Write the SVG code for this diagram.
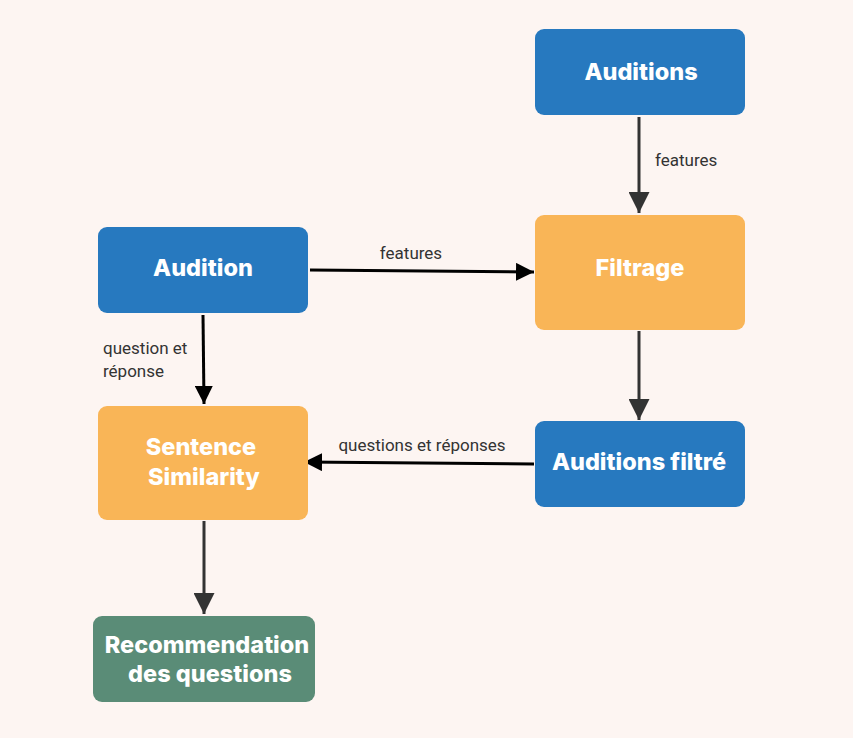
<svg xmlns="http://www.w3.org/2000/svg" width="853" height="738" viewBox="0 0 853 738">
  <defs>
    <style>
      .node-label { font-family: Inter, Roboto, "Liberation Sans", sans-serif; font-weight: 800; font-size: 23.5px; fill: #ffffff; text-anchor: middle; }
      .edge-label { font-family: Roboto, "Liberation Sans", sans-serif; font-size: 17px; fill: #333333; }
      .blue { fill: #2779bf; }
      .orange { fill: #f9b557; }
      .green { fill: #5a8c77; }
      .edge-dark { stroke: #333333; stroke-width: 3; fill: none; }
      .edge-black { stroke: #000000; stroke-width: 3; fill: none; }
    </style>
    <marker id="head-dark" viewBox="0 0 10 10" refX="10" refY="5" markerWidth="7" markerHeight="7" markerUnits="strokeWidth" orient="auto">
      <path d="M0,0 L10,5 L0,10 Z" fill="#333333"/>
    </marker>
    <marker id="head-black" viewBox="0 0 10 10" refX="10" refY="5" markerWidth="6" markerHeight="6" markerUnits="strokeWidth" orient="auto">
      <path d="M0,0 L10,5 L0,10 Z" fill="#000000"/>
    </marker>
  </defs>

  <rect width="853" height="738" fill="#fdf5f2"/>

  <g id="connectors">
    <path class="edge-dark" d="M639,117 L639,213" marker-end="url(#head-dark)"/>
    <text class="edge-label" x="655" y="166">features</text>

    <path class="edge-black" d="M310,270 L534,272" marker-end="url(#head-black)"/>
    <text class="edge-label" x="411" y="259" text-anchor="middle">features</text>

    <path class="edge-black" d="M203,315 L204,404" marker-end="url(#head-black)"/>
    <text class="edge-label" x="103" y="354">question et</text>
    <text class="edge-label" x="103" y="377">réponse</text>

    <path class="edge-dark" d="M639,331 L639,420" marker-end="url(#head-dark)"/>

    <path class="edge-black" d="M534,464 L304,462" marker-end="url(#head-black)"/>
    <text class="edge-label" x="422" y="451" text-anchor="middle">questions et réponses</text>

    <path class="edge-dark" d="M204,521 L204,614" marker-end="url(#head-dark)"/>
  </g>

  <g id="auditions">
    <rect class="blue" x="535" y="29" width="210" height="86" rx="9"/>
    <text class="node-label" x="641" y="80">Auditions</text>
  </g>

  <g id="filtrage">
    <rect class="orange" x="535" y="215" width="210" height="115" rx="9"/>
    <text class="node-label" x="640" y="276">Filtrage</text>
  </g>

  <g id="audition">
    <rect class="blue" x="98" y="227" width="210" height="86" rx="9"/>
    <text class="node-label" x="203" y="276">Audition</text>
  </g>

  <g id="sentence-similarity">
    <rect class="orange" x="98" y="406" width="210" height="114" rx="9"/>
    <text class="node-label" x="201" y="455">Sentence</text>
    <text class="node-label" x="204" y="485">Similarity</text>
  </g>

  <g id="auditions-filtre">
    <rect class="blue" x="535" y="421" width="210" height="86" rx="9"/>
    <text class="node-label" x="639" y="470">Auditions filtré</text>
  </g>

  <g id="recommendation">
    <rect class="green" x="93" y="616" width="222" height="86" rx="9"/>
    <text class="node-label" x="207" y="653">Recommendation</text>
    <text class="node-label" x="210" y="682">des questions</text>
  </g>
</svg>
